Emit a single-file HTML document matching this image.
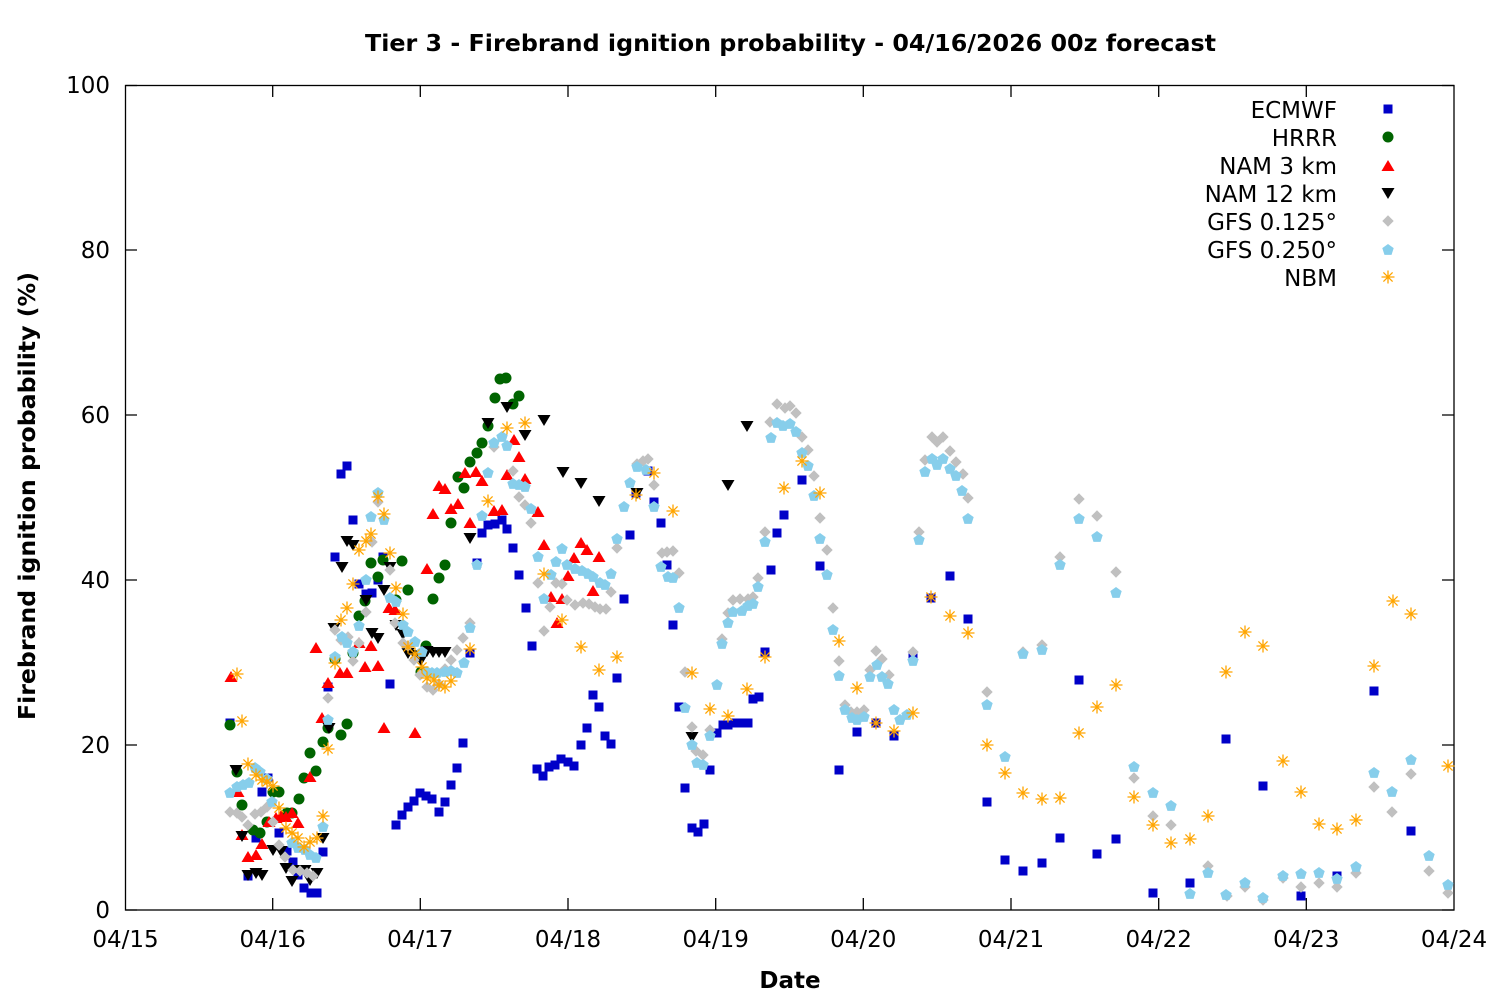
<!DOCTYPE html>
<html>
<head>
<meta charset="utf-8">
<style>
html,body{margin:0;padding:0;background:#fff;}
svg{display:block;}
text{font-family:"DejaVu Sans","Liberation Sans",sans-serif;fill:#000;}
</style>
</head>
<body>
<svg width="1500" height="1000" viewBox="0 0 1500 1000" xmlns="http://www.w3.org/2000/svg">
<defs>
<rect id="sq" x="-4.5" y="-4.5" width="9" height="9" fill="#0000c8"/>
<circle id="ci" cx="0" cy="0" r="5.5" fill="#006400"/>
<polygon id="ut" points="0,-6 6.5,5 -6.5,5" fill="#ff0000"/>
<polygon id="dt" points="-6.5,-5 6.5,-5 0,6" fill="#000000"/>
<polygon id="di" points="0,-5.7 5.7,0 0,5.7 -5.7,0" fill="#c0c0c0"/>
<polygon id="pe" points="0,-6 5.7,-1.85 3.53,4.85 -3.53,4.85 -5.7,-1.85" fill="#87ceeb"/>
<path id="as" d="M-6.5,0H6.5M0,-6.5V6.5M-4.6,-4.6L4.6,4.6M-4.6,4.6L4.6,-4.6" stroke="#ffa500" stroke-width="1.3" fill="none"/>
</defs>
<rect width="1500" height="1000" fill="#fff"/>

<!-- title -->
<text x="790.5" y="51" font-size="23" font-weight="bold" text-anchor="middle" textLength="851" lengthAdjust="spacingAndGlyphs">Tier 3 - Firebrand ignition probability - 04/16/2026 00z forecast</text>

<!-- axes frame -->
<rect x="125.5" y="85.5" width="1328.5" height="824.5" fill="none" stroke="#000" stroke-width="1.3"/>
<g stroke="#000" stroke-width="1.3">
<path d="M125.5,910H137M125.5,745H137M125.5,580H137M125.5,415H137M125.5,250H137M125.5,85.5H137"/>
<path d="M1454,910H1442M1454,745H1442M1454,580H1442M1454,415H1442M1454,250H1442M1454,85.5H1442"/>
<path d="M272.7,910V898M420.3,910V898M568,910V898M715.7,910V898M863.3,910V898M1011,910V898M1158.7,910V898M1306.3,910V898"/>
<path d="M272.7,85.5V97M420.3,85.5V97M568,85.5V97M715.7,85.5V97M863.3,85.5V97M1011,85.5V97M1158.7,85.5V97M1306.3,85.5V97"/>
</g>

<!-- y tick labels -->
<g font-size="23" text-anchor="end">
<text x="110" y="918">0</text>
<text x="110" y="753">20</text>
<text x="110" y="588">40</text>
<text x="110" y="423">60</text>
<text x="110" y="258">80</text>
<text x="110" y="93">100</text>
</g>
<!-- x tick labels -->
<g font-size="23" text-anchor="middle">
<text x="125.5" y="947">04/15</text>
<text x="272.7" y="947">04/16</text>
<text x="420.3" y="947">04/17</text>
<text x="568" y="947">04/18</text>
<text x="715.7" y="947">04/19</text>
<text x="863.3" y="947">04/20</text>
<text x="1011" y="947">04/21</text>
<text x="1158.7" y="947">04/22</text>
<text x="1306.3" y="947">04/23</text>
<text x="1454" y="947">04/24</text>
</g>

<!-- axis labels -->
<text x="790" y="988" font-size="23" font-weight="bold" text-anchor="middle">Date</text>
<text transform="translate(35,496) rotate(-90)" x="0" y="0" font-size="23" font-weight="bold" text-anchor="middle" textLength="448" lengthAdjust="spacingAndGlyphs">Firebrand ignition probability (%)</text>

<!-- ECMWF -->
<g>
<use href="#sq" x="230" y="723"/><use href="#sq" x="248" y="876"/><use href="#sq" x="256" y="838"/><use href="#sq" x="262" y="792"/><use href="#sq" x="268" y="778"/><use href="#sq" x="279" y="833"/><use href="#sq" x="287" y="851"/><use href="#sq" x="293" y="862"/><use href="#sq" x="298" y="875"/><use href="#sq" x="304" y="888"/><use href="#sq" x="311" y="893"/><use href="#sq" x="317" y="893"/><use href="#sq" x="323" y="852"/><use href="#sq" x="328" y="687"/><use href="#sq" x="335" y="557"/><use href="#sq" x="341" y="474"/><use href="#sq" x="347" y="466"/><use href="#sq" x="353" y="520"/><use href="#sq" x="359" y="584"/><use href="#sq" x="366" y="594"/><use href="#sq" x="372" y="593"/><use href="#sq" x="378" y="580"/><use href="#sq" x="383" y="557"/><use href="#sq" x="390" y="684"/><use href="#sq" x="396" y="825"/><use href="#sq" x="402" y="815"/><use href="#sq" x="408" y="807"/><use href="#sq" x="414" y="801"/><use href="#sq" x="420" y="793"/><use href="#sq" x="426" y="796"/><use href="#sq" x="432" y="799"/><use href="#sq" x="439" y="812"/><use href="#sq" x="445" y="802"/><use href="#sq" x="451" y="785"/><use href="#sq" x="457" y="768"/><use href="#sq" x="463" y="743"/><use href="#sq" x="470" y="653"/><use href="#sq" x="477" y="563"/><use href="#sq" x="482" y="533"/><use href="#sq" x="488" y="525"/><use href="#sq" x="495" y="524"/><use href="#sq" x="502" y="520"/><use href="#sq" x="507" y="529"/><use href="#sq" x="513" y="548"/><use href="#sq" x="519" y="575"/><use href="#sq" x="526" y="608"/><use href="#sq" x="532" y="646"/><use href="#sq" x="537" y="769"/><use href="#sq" x="543" y="776"/><use href="#sq" x="549" y="767"/><use href="#sq" x="555" y="765"/><use href="#sq" x="561" y="759"/><use href="#sq" x="568" y="762"/><use href="#sq" x="574" y="766"/><use href="#sq" x="581" y="745"/><use href="#sq" x="587" y="728"/><use href="#sq" x="593" y="695"/><use href="#sq" x="599" y="707"/><use href="#sq" x="605" y="736"/><use href="#sq" x="611" y="744"/><use href="#sq" x="617" y="678"/><use href="#sq" x="624" y="599"/><use href="#sq" x="630" y="535"/><use href="#sq" x="636" y="493"/><use href="#sq" x="648" y="471"/><use href="#sq" x="654" y="502"/><use href="#sq" x="661" y="523"/><use href="#sq" x="667" y="565"/><use href="#sq" x="673" y="625"/><use href="#sq" x="679" y="707"/><use href="#sq" x="685" y="788"/><use href="#sq" x="692" y="828"/><use href="#sq" x="698" y="832"/><use href="#sq" x="704" y="824"/><use href="#sq" x="710" y="770"/><use href="#sq" x="717" y="733"/><use href="#sq" x="723" y="725"/><use href="#sq" x="728" y="725"/><use href="#sq" x="735" y="723"/><use href="#sq" x="742" y="723"/><use href="#sq" x="748" y="723"/><use href="#sq" x="753" y="699"/><use href="#sq" x="759" y="697"/><use href="#sq" x="765" y="652"/><use href="#sq" x="771" y="570"/><use href="#sq" x="777" y="533"/><use href="#sq" x="784" y="515"/><use href="#sq" x="802" y="480"/><use href="#sq" x="820" y="566"/><use href="#sq" x="839" y="770"/><use href="#sq" x="857" y="732"/><use href="#sq" x="876" y="723"/><use href="#sq" x="894" y="736"/><use href="#sq" x="913" y="658"/><use href="#sq" x="931" y="598"/><use href="#sq" x="950" y="576"/><use href="#sq" x="968" y="619"/><use href="#sq" x="987" y="802"/><use href="#sq" x="1005" y="860"/><use href="#sq" x="1023" y="871"/><use href="#sq" x="1042" y="863"/><use href="#sq" x="1060" y="838"/><use href="#sq" x="1079" y="680"/><use href="#sq" x="1097" y="854"/><use href="#sq" x="1116" y="839"/><use href="#sq" x="1153" y="893"/><use href="#sq" x="1190" y="883"/><use href="#sq" x="1226" y="739"/><use href="#sq" x="1263" y="786"/><use href="#sq" x="1301" y="896"/><use href="#sq" x="1337" y="876"/><use href="#sq" x="1374" y="691"/><use href="#sq" x="1411" y="831"/>
</g>

<!-- HRRR -->
<g>
<use href="#ci" x="230" y="725"/><use href="#ci" x="237" y="772"/><use href="#ci" x="242" y="805"/><use href="#ci" x="253" y="830"/><use href="#ci" x="260" y="833"/><use href="#ci" x="267" y="822"/><use href="#ci" x="273" y="792"/><use href="#ci" x="279" y="792"/><use href="#ci" x="287" y="813"/><use href="#ci" x="292" y="813"/><use href="#ci" x="299" y="799"/><use href="#ci" x="304" y="778"/><use href="#ci" x="310" y="753"/><use href="#ci" x="316" y="771"/><use href="#ci" x="323" y="742"/><use href="#ci" x="328" y="728"/><use href="#ci" x="335" y="659"/><use href="#ci" x="341" y="735"/><use href="#ci" x="347" y="724"/><use href="#ci" x="353" y="653"/><use href="#ci" x="359" y="616"/><use href="#ci" x="365" y="601"/><use href="#ci" x="371" y="563"/><use href="#ci" x="378" y="577"/><use href="#ci" x="383" y="560"/><use href="#ci" x="396" y="600"/><use href="#ci" x="402" y="561"/><use href="#ci" x="408" y="590"/><use href="#ci" x="421" y="672"/><use href="#ci" x="426" y="646"/><use href="#ci" x="433" y="599"/><use href="#ci" x="439" y="578"/><use href="#ci" x="445" y="565"/><use href="#ci" x="451" y="523"/><use href="#ci" x="458" y="477"/><use href="#ci" x="464" y="488"/><use href="#ci" x="470" y="462"/><use href="#ci" x="477" y="453"/><use href="#ci" x="482" y="443"/><use href="#ci" x="488" y="426"/><use href="#ci" x="495" y="398"/><use href="#ci" x="500" y="379"/><use href="#ci" x="506" y="378"/><use href="#ci" x="513" y="404"/><use href="#ci" x="519" y="396"/>
</g>

<!-- NAM 3 km -->
<g>
<use href="#ut" x="231" y="677"/><use href="#ut" x="238" y="792"/><use href="#ut" x="242" y="835"/><use href="#ut" x="248" y="857"/><use href="#ut" x="256" y="855"/><use href="#ut" x="262" y="844"/><use href="#ut" x="269" y="822"/><use href="#ut" x="276" y="818"/><use href="#ut" x="281" y="816"/><use href="#ut" x="286" y="817"/><use href="#ut" x="292" y="813"/><use href="#ut" x="298" y="823"/><use href="#ut" x="310" y="777"/><use href="#ut" x="316" y="648"/><use href="#ut" x="322" y="718"/><use href="#ut" x="328" y="683"/><use href="#ut" x="340" y="673"/><use href="#ut" x="347" y="673"/><use href="#ut" x="359" y="643"/><use href="#ut" x="365" y="667"/><use href="#ut" x="371" y="646"/><use href="#ut" x="378" y="666"/><use href="#ut" x="384" y="728"/><use href="#ut" x="389" y="608"/><use href="#ut" x="395" y="610"/><use href="#ut" x="415" y="733"/><use href="#ut" x="427" y="569"/><use href="#ut" x="433" y="514"/><use href="#ut" x="439" y="486"/><use href="#ut" x="445" y="489"/><use href="#ut" x="451" y="509"/><use href="#ut" x="458" y="504"/><use href="#ut" x="465" y="473"/><use href="#ut" x="470" y="523"/><use href="#ut" x="476" y="472"/><use href="#ut" x="482" y="481"/><use href="#ut" x="494" y="511"/><use href="#ut" x="502" y="510"/><use href="#ut" x="507" y="475"/><use href="#ut" x="514" y="440"/><use href="#ut" x="519" y="457"/><use href="#ut" x="525" y="479"/><use href="#ut" x="538" y="512"/><use href="#ut" x="544" y="545"/><use href="#ut" x="551" y="597"/><use href="#ut" x="557" y="623"/><use href="#ut" x="562" y="599"/><use href="#ut" x="568" y="576"/><use href="#ut" x="574" y="558"/><use href="#ut" x="581" y="543"/><use href="#ut" x="587" y="550"/><use href="#ut" x="593" y="591"/><use href="#ut" x="599" y="557"/>
</g>

<!-- NAM 12 km -->
<g>
<use href="#dt" x="236" y="770"/><use href="#dt" x="242" y="836"/><use href="#dt" x="248" y="875"/><use href="#dt" x="256" y="873"/><use href="#dt" x="262" y="875"/><use href="#dt" x="273" y="850"/><use href="#dt" x="281" y="851"/><use href="#dt" x="286" y="868"/><use href="#dt" x="292" y="881"/><use href="#dt" x="299" y="870"/><use href="#dt" x="305" y="870"/><use href="#dt" x="310" y="880"/><use href="#dt" x="317" y="873"/><use href="#dt" x="323" y="838"/><use href="#dt" x="329" y="728"/><use href="#dt" x="334" y="628"/><use href="#dt" x="342" y="567"/><use href="#dt" x="347" y="541"/><use href="#dt" x="353" y="545"/><use href="#dt" x="366" y="600"/><use href="#dt" x="372" y="633"/><use href="#dt" x="378" y="638"/><use href="#dt" x="384" y="590"/><use href="#dt" x="390" y="567"/><use href="#dt" x="396" y="625"/><use href="#dt" x="403" y="634"/><use href="#dt" x="408" y="653"/><use href="#dt" x="415" y="655"/><use href="#dt" x="421" y="660"/><use href="#dt" x="427" y="651"/><use href="#dt" x="433" y="652"/><use href="#dt" x="439" y="652"/><use href="#dt" x="445" y="652"/><use href="#dt" x="470" y="538"/><use href="#dt" x="488" y="423"/><use href="#dt" x="507" y="407"/><use href="#dt" x="525" y="435"/><use href="#dt" x="544" y="420"/><use href="#dt" x="563" y="472"/><use href="#dt" x="581" y="483"/><use href="#dt" x="599" y="501"/><use href="#dt" x="637" y="493"/><use href="#dt" x="692" y="737"/><use href="#dt" x="728" y="485"/><use href="#dt" x="747" y="426"/>
</g>

<!-- GFS 0.125 -->
<g>
<use href="#di" x="230" y="812"/><use href="#di" x="237" y="813"/><use href="#di" x="242" y="817"/><use href="#di" x="248" y="825"/><use href="#di" x="255" y="814"/><use href="#di" x="261" y="812"/><use href="#di" x="267" y="807"/><use href="#di" x="273" y="822"/><use href="#di" x="279" y="845"/><use href="#di" x="285" y="857"/><use href="#di" x="293" y="870"/><use href="#di" x="300" y="871"/><use href="#di" x="307" y="873"/><use href="#di" x="313" y="876"/><use href="#di" x="328" y="698"/><use href="#di" x="335" y="630"/><use href="#di" x="341" y="640"/><use href="#di" x="348" y="637"/><use href="#di" x="353" y="661"/><use href="#di" x="359" y="643"/><use href="#di" x="366" y="612"/><use href="#di" x="372" y="542"/><use href="#di" x="378" y="502"/><use href="#di" x="390" y="570"/><use href="#di" x="395" y="623"/><use href="#di" x="403" y="643"/><use href="#di" x="408" y="646"/><use href="#di" x="414" y="660"/><use href="#di" x="420" y="675"/><use href="#di" x="427" y="687"/><use href="#di" x="433" y="690"/><use href="#di" x="439" y="684"/><use href="#di" x="445" y="669"/><use href="#di" x="451" y="660"/><use href="#di" x="457" y="650"/><use href="#di" x="463" y="638"/><use href="#di" x="470" y="623"/><use href="#di" x="494" y="447"/><use href="#di" x="513" y="471"/><use href="#di" x="519" y="497"/><use href="#di" x="525" y="505"/><use href="#di" x="531" y="523"/><use href="#di" x="538" y="583"/><use href="#di" x="544" y="631"/><use href="#di" x="550" y="607"/><use href="#di" x="556" y="583"/><use href="#di" x="562" y="584"/><use href="#di" x="567" y="600"/><use href="#di" x="575" y="605"/><use href="#di" x="583" y="603"/><use href="#di" x="589" y="604"/><use href="#di" x="595" y="607"/><use href="#di" x="600" y="609"/><use href="#di" x="606" y="609"/><use href="#di" x="611" y="592"/><use href="#di" x="617" y="548"/><use href="#di" x="637" y="464"/><use href="#di" x="643" y="461"/><use href="#di" x="648" y="459"/><use href="#di" x="654" y="485"/><use href="#di" x="662" y="553"/><use href="#di" x="667" y="552"/><use href="#di" x="673" y="551"/><use href="#di" x="679" y="573"/><use href="#di" x="685" y="672"/><use href="#di" x="692" y="727"/><use href="#di" x="696" y="751"/><use href="#di" x="703" y="755"/><use href="#di" x="710" y="730"/><use href="#di" x="722" y="639"/><use href="#di" x="728" y="613"/><use href="#di" x="733" y="600"/><use href="#di" x="740" y="599"/><use href="#di" x="748" y="599"/><use href="#di" x="753" y="597"/><use href="#di" x="758" y="578"/><use href="#di" x="765" y="532"/><use href="#di" x="770" y="422"/><use href="#di" x="777" y="404"/><use href="#di" x="785" y="408"/><use href="#di" x="790" y="406"/><use href="#di" x="796" y="413"/><use href="#di" x="802" y="437"/><use href="#di" x="808" y="450"/><use href="#di" x="814" y="476"/><use href="#di" x="820" y="518"/><use href="#di" x="827" y="550"/><use href="#di" x="833" y="608"/><use href="#di" x="839" y="661"/><use href="#di" x="845" y="705"/><use href="#di" x="851" y="712"/><use href="#di" x="857" y="712"/><use href="#di" x="864" y="710"/><use href="#di" x="870" y="670"/><use href="#di" x="876" y="651"/><use href="#di" x="882" y="659"/><use href="#di" x="889" y="675"/><use href="#di" x="913" y="652"/><use href="#di" x="919" y="532"/><use href="#di" x="925" y="460"/><use href="#di" x="932" y="437"/><use href="#di" x="937" y="442"/><use href="#di" x="943" y="437"/><use href="#di" x="950" y="451"/><use href="#di" x="956" y="462"/><use href="#di" x="963" y="474"/><use href="#di" x="968" y="498"/><use href="#di" x="987" y="692"/><use href="#di" x="1023" y="652"/><use href="#di" x="1042" y="645"/><use href="#di" x="1060" y="557"/><use href="#di" x="1079" y="499"/><use href="#di" x="1097" y="516"/><use href="#di" x="1116" y="572"/><use href="#di" x="1134" y="778"/><use href="#di" x="1153" y="816"/><use href="#di" x="1171" y="825"/><use href="#di" x="1208" y="866"/><use href="#di" x="1227" y="896"/><use href="#di" x="1245" y="887"/><use href="#di" x="1263" y="900"/><use href="#di" x="1283" y="878"/><use href="#di" x="1301" y="887"/><use href="#di" x="1319" y="883"/><use href="#di" x="1337" y="887"/><use href="#di" x="1356" y="873"/><use href="#di" x="1374" y="787"/><use href="#di" x="1392" y="812"/><use href="#di" x="1411" y="774"/><use href="#di" x="1429" y="871"/><use href="#di" x="1448" y="893"/>
</g>

<!-- GFS 0.250 -->
<g>
<use href="#pe" x="230" y="793"/><use href="#pe" x="237" y="787"/><use href="#pe" x="243" y="785"/><use href="#pe" x="249" y="783"/><use href="#pe" x="255" y="768"/><use href="#pe" x="260" y="772"/><use href="#pe" x="267" y="779"/><use href="#pe" x="272" y="802"/><use href="#pe" x="292" y="843"/><use href="#pe" x="298" y="848"/><use href="#pe" x="305" y="850"/><use href="#pe" x="310" y="855"/><use href="#pe" x="316" y="858"/><use href="#pe" x="323" y="827"/><use href="#pe" x="328" y="720"/><use href="#pe" x="335" y="657"/><use href="#pe" x="342" y="637"/><use href="#pe" x="347" y="643"/><use href="#pe" x="353" y="652"/><use href="#pe" x="359" y="626"/><use href="#pe" x="366" y="580"/><use href="#pe" x="371" y="517"/><use href="#pe" x="378" y="493"/><use href="#pe" x="384" y="520"/><use href="#pe" x="390" y="598"/><use href="#pe" x="396" y="602"/><use href="#pe" x="403" y="625"/><use href="#pe" x="408" y="632"/><use href="#pe" x="415" y="642"/><use href="#pe" x="422" y="652"/><use href="#pe" x="427" y="672"/><use href="#pe" x="432" y="673"/><use href="#pe" x="437" y="673"/><use href="#pe" x="445" y="672"/><use href="#pe" x="451" y="671"/><use href="#pe" x="457" y="673"/><use href="#pe" x="464" y="663"/><use href="#pe" x="470" y="628"/><use href="#pe" x="477" y="565"/><use href="#pe" x="482" y="516"/><use href="#pe" x="488" y="473"/><use href="#pe" x="494" y="443"/><use href="#pe" x="502" y="437"/><use href="#pe" x="507" y="446"/><use href="#pe" x="513" y="484"/><use href="#pe" x="519" y="485"/><use href="#pe" x="525" y="487"/><use href="#pe" x="531" y="509"/><use href="#pe" x="538" y="557"/><use href="#pe" x="544" y="599"/><use href="#pe" x="551" y="575"/><use href="#pe" x="556" y="562"/><use href="#pe" x="562" y="549"/><use href="#pe" x="567" y="565"/><use href="#pe" x="575" y="569"/><use href="#pe" x="582" y="571"/><use href="#pe" x="588" y="574"/><use href="#pe" x="593" y="577"/><use href="#pe" x="600" y="583"/><use href="#pe" x="605" y="585"/><use href="#pe" x="611" y="574"/><use href="#pe" x="617" y="539"/><use href="#pe" x="624" y="507"/><use href="#pe" x="630" y="483"/><use href="#pe" x="637" y="467"/><use href="#pe" x="646" y="470"/><use href="#pe" x="654" y="507"/><use href="#pe" x="661" y="567"/><use href="#pe" x="668" y="577"/><use href="#pe" x="673" y="578"/><use href="#pe" x="679" y="608"/><use href="#pe" x="685" y="708"/><use href="#pe" x="692" y="745"/><use href="#pe" x="697" y="763"/><use href="#pe" x="703" y="765"/><use href="#pe" x="710" y="736"/><use href="#pe" x="717" y="685"/><use href="#pe" x="722" y="644"/><use href="#pe" x="728" y="623"/><use href="#pe" x="733" y="612"/><use href="#pe" x="742" y="611"/><use href="#pe" x="748" y="606"/><use href="#pe" x="753" y="604"/><use href="#pe" x="758" y="587"/><use href="#pe" x="765" y="542"/><use href="#pe" x="771" y="438"/><use href="#pe" x="777" y="423"/><use href="#pe" x="783" y="426"/><use href="#pe" x="790" y="424"/><use href="#pe" x="796" y="432"/><use href="#pe" x="802" y="453"/><use href="#pe" x="808" y="466"/><use href="#pe" x="814" y="496"/><use href="#pe" x="820" y="539"/><use href="#pe" x="827" y="575"/><use href="#pe" x="833" y="630"/><use href="#pe" x="839" y="676"/><use href="#pe" x="845" y="710"/><use href="#pe" x="852" y="718"/><use href="#pe" x="857" y="720"/><use href="#pe" x="864" y="717"/><use href="#pe" x="870" y="677"/><use href="#pe" x="877" y="665"/><use href="#pe" x="882" y="677"/><use href="#pe" x="888" y="684"/><use href="#pe" x="894" y="710"/><use href="#pe" x="900" y="720"/><use href="#pe" x="907" y="715"/><use href="#pe" x="913" y="661"/><use href="#pe" x="919" y="540"/><use href="#pe" x="925" y="472"/><use href="#pe" x="932" y="459"/><use href="#pe" x="937" y="465"/><use href="#pe" x="943" y="459"/><use href="#pe" x="950" y="469"/><use href="#pe" x="956" y="476"/><use href="#pe" x="962" y="491"/><use href="#pe" x="968" y="519"/><use href="#pe" x="987" y="705"/><use href="#pe" x="1005" y="757"/><use href="#pe" x="1023" y="654"/><use href="#pe" x="1042" y="650"/><use href="#pe" x="1060" y="565"/><use href="#pe" x="1079" y="519"/><use href="#pe" x="1097" y="537"/><use href="#pe" x="1116" y="593"/><use href="#pe" x="1134" y="767"/><use href="#pe" x="1153" y="793"/><use href="#pe" x="1171" y="806"/><use href="#pe" x="1190" y="894"/><use href="#pe" x="1208" y="873"/><use href="#pe" x="1226" y="895"/><use href="#pe" x="1245" y="883"/><use href="#pe" x="1263" y="898"/><use href="#pe" x="1283" y="876"/><use href="#pe" x="1301" y="874"/><use href="#pe" x="1319" y="873"/><use href="#pe" x="1337" y="879"/><use href="#pe" x="1356" y="867"/><use href="#pe" x="1374" y="773"/><use href="#pe" x="1392" y="792"/><use href="#pe" x="1411" y="760"/><use href="#pe" x="1429" y="856"/><use href="#pe" x="1448" y="885"/>
</g>

<!-- NBM -->
<g>
<use href="#as" x="237" y="674"/><use href="#as" x="242" y="721"/><use href="#as" x="248" y="764"/><use href="#as" x="256" y="775"/><use href="#as" x="262" y="780"/><use href="#as" x="267" y="782"/><use href="#as" x="273" y="786"/><use href="#as" x="279" y="808"/><use href="#as" x="286" y="828"/><use href="#as" x="292" y="833"/><use href="#as" x="298" y="838"/><use href="#as" x="304" y="847"/><use href="#as" x="310" y="842"/><use href="#as" x="317" y="838"/><use href="#as" x="323" y="816"/><use href="#as" x="328" y="749"/><use href="#as" x="335" y="663"/><use href="#as" x="341" y="620"/><use href="#as" x="347" y="608"/><use href="#as" x="353" y="584"/><use href="#as" x="359" y="550"/><use href="#as" x="366" y="541"/><use href="#as" x="371" y="534"/><use href="#as" x="378" y="497"/><use href="#as" x="384" y="514"/><use href="#as" x="390" y="553"/><use href="#as" x="396" y="588"/><use href="#as" x="403" y="614"/><use href="#as" x="408" y="647"/><use href="#as" x="415" y="654"/><use href="#as" x="422" y="667"/><use href="#as" x="427" y="678"/><use href="#as" x="434" y="680"/><use href="#as" x="439" y="685"/><use href="#as" x="445" y="687"/><use href="#as" x="451" y="681"/><use href="#as" x="470" y="649"/><use href="#as" x="488" y="501"/><use href="#as" x="507" y="428"/><use href="#as" x="525" y="423"/><use href="#as" x="544" y="574"/><use href="#as" x="562" y="620"/><use href="#as" x="581" y="647"/><use href="#as" x="599" y="670"/><use href="#as" x="617" y="657"/><use href="#as" x="636" y="495"/><use href="#as" x="654" y="473"/><use href="#as" x="673" y="511"/><use href="#as" x="692" y="673"/><use href="#as" x="710" y="709"/><use href="#as" x="728" y="716"/><use href="#as" x="747" y="689"/><use href="#as" x="765" y="657"/><use href="#as" x="784" y="488"/><use href="#as" x="802" y="461"/><use href="#as" x="820" y="493"/><use href="#as" x="839" y="641"/><use href="#as" x="857" y="688"/><use href="#as" x="876" y="723"/><use href="#as" x="894" y="731"/><use href="#as" x="913" y="713"/><use href="#as" x="931" y="597"/><use href="#as" x="950" y="616"/><use href="#as" x="968" y="633"/><use href="#as" x="987" y="745"/><use href="#as" x="1005" y="773"/><use href="#as" x="1023" y="793"/><use href="#as" x="1042" y="799"/><use href="#as" x="1060" y="798"/><use href="#as" x="1079" y="733"/><use href="#as" x="1097" y="707"/><use href="#as" x="1116" y="685"/><use href="#as" x="1134" y="797"/><use href="#as" x="1153" y="825"/><use href="#as" x="1171" y="843"/><use href="#as" x="1190" y="839"/><use href="#as" x="1208" y="816"/><use href="#as" x="1226" y="672"/><use href="#as" x="1245" y="632"/><use href="#as" x="1263" y="646"/><use href="#as" x="1283" y="761"/><use href="#as" x="1301" y="792"/><use href="#as" x="1319" y="824"/><use href="#as" x="1337" y="829"/><use href="#as" x="1356" y="820"/><use href="#as" x="1374" y="666"/><use href="#as" x="1393" y="601"/><use href="#as" x="1411" y="614"/><use href="#as" x="1448" y="766"/>
</g>

<!-- legend -->
<g font-size="23" text-anchor="end">
<text x="1337" y="118">ECMWF</text>
<text x="1337" y="146">HRRR</text>
<text x="1337" y="174">NAM 3 km</text>
<text x="1337" y="202">NAM 12 km</text>
<text x="1337" y="230">GFS 0.125°</text>
<text x="1337" y="258">GFS 0.250°</text>
<text x="1337" y="286">NBM</text>
</g>
<use href="#sq" x="1388" y="109"/>
<use href="#ci" x="1388" y="137"/>
<use href="#ut" x="1388" y="166"/>
<use href="#dt" x="1388" y="193"/>
<use href="#di" x="1388" y="221"/>
<use href="#pe" x="1388" y="250"/>
<use href="#as" x="1388" y="277"/>
</svg>
</body>
</html>
